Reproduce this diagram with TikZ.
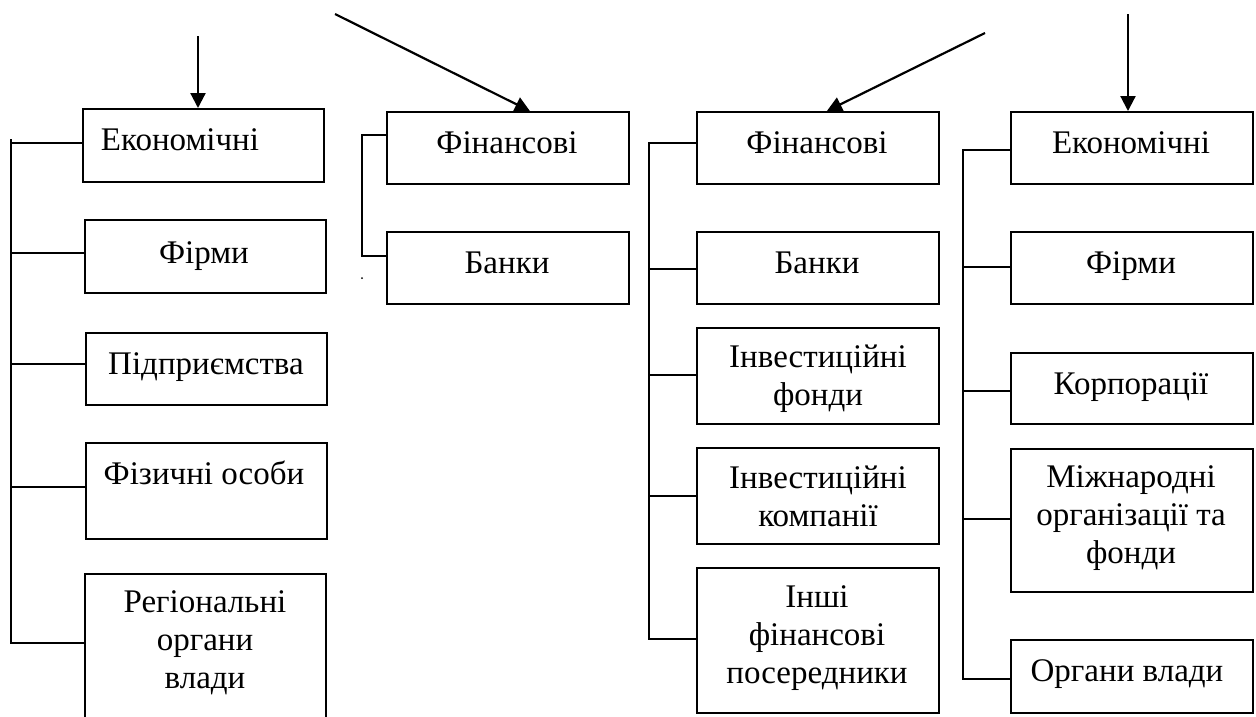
\documentclass[tikz,border=0pt]{standalone}
\usepackage{fontspec}
\setmainfont{Liberation Serif}
\usetikzlibrary{arrows.meta}
\begin{document}
\begin{tikzpicture}[x=1pt,y=-1pt,
  box/.style={draw, line width=1.8pt, inner sep=0pt, anchor=north west},
  txt/.style={font=\fontsize{33}{38}\selectfont, inner sep=0pt, align=center},
  one/.style={txt, text height=22pt, text depth=0pt},
  bus/.style={line width=1.5pt, line cap=rect},
  arr/.style={line width=2.2pt, -{Triangle[length=15pt,width=15pt]}}]
\useasboundingbox (0,0) rectangle (1256,716);
\clip (0,0) rectangle (1256,716);

% column 1
\node[box, minimum width=241pt, minimum height=73pt] (eko1) at (82,108) {};
\node[box, minimum width=241pt, minimum height=73pt] (firm1) at (84,219) {};
\node[box, minimum width=241pt, minimum height=72pt] (pidp1) at (85,332) {};
\node[box, minimum width=241pt, minimum height=96pt] (fiz1) at (85,442) {};
\node[box, minimum width=241pt, minimum height=160pt] (reg1) at (84,573) {};
\node[one] (eko1t) at (180,139) {Економічні};
\node[one] (firm1t) at (204,252) {Фірми};
\node[one] (pidp1t) at (206,363) {Підприємства};
\node[one] (fiz1t) at (204,473) {Фізичні особи};
\node[txt] (reg1t) at (205,643) {Регіональні\\органи\\влади};

% column 2
\node[box, minimum width=242pt, minimum height=72pt] (fin2) at (386,111) {};
\node[box, minimum width=242pt, minimum height=72pt] (bank2) at (386,231) {};
\node[one] (fin2t) at (507,142) {Фінансові};
\node[one] (bank2t) at (507,262) {Банки};

% column 3
\node[box, minimum width=242pt, minimum height=72pt] (fin3) at (696,111) {};
\node[box, minimum width=242pt, minimum height=72pt] (bank3) at (696,231) {};
\node[box, minimum width=242pt, minimum height=96pt] (inv3a) at (696,327) {};
\node[box, minimum width=242pt, minimum height=96pt] (inv3b) at (696,447) {};
\node[box, minimum width=242pt, minimum height=145pt] (oth3) at (696,567) {};
\node[one] (fin3t) at (817,142) {Фінансові};
\node[one] (bank3t) at (817,262) {Банки};
\node[txt] (inv3at) at (818,379) {Інвестиційні\\фонди};
\node[txt] (inv3bt) at (818,496) {Інвестиційні\\компанії};
\node[txt] (oth3t) at (817,638) {Інші\\фінансові\\посередники};

% column 4
\node[box, minimum width=242pt, minimum height=72pt] (eko4) at (1010,111) {};
\node[box, minimum width=242pt, minimum height=72pt] (firm4) at (1010,231) {};
\node[box, minimum width=242pt, minimum height=71pt] (korp4) at (1010,352) {};
\node[box, minimum width=242pt, minimum height=143pt] (mizh4) at (1010,448) {};
\node[box, minimum width=242pt, minimum height=73pt] (org4) at (1010,639) {};
\node[one] (eko4t) at (1131,142) {Економічні};
\node[one] (firm4t) at (1131,262) {Фірми};
\node[one] (korp4t) at (1131,383) {Корпорації};
\node[txt] (mizh4t) at (1131,518) {Міжнародні\\організації та\\фонди};
\node[one] (org4t) at (1127,670) {Органи влади};

% bus column 1
\coordinate (c1t) at (11,140);
\coordinate (c1a) at (11,143);
\coordinate (c1b) at (11,253);
\coordinate (c1c) at (11,364);
\coordinate (c1d) at (11,487);
\coordinate (c1e) at (11,643);
\draw[bus] (c1t) -- (c1e);
\draw[bus] (c1a) -- (c1a -| eko1.west);
\draw[bus] (c1b) -- (c1b -| firm1.west);
\draw[bus] (c1c) -- (c1c -| pidp1.west);
\draw[bus] (c1d) -- (c1d -| fiz1.west);
\draw[bus] (c1e) -- (c1e -| reg1.west);

% bus column 2
\coordinate (c2a) at (362,135);
\coordinate (c2b) at (362,256);
\draw[bus] (c2a -| fin2.west) -- (c2a) -- (c2b) -- (c2b -| bank2.west);
\fill (362,278) circle (1pt);

% bus column 3
\coordinate (c3a) at (649,143);
\coordinate (c3b) at (649,269);
\coordinate (c3c) at (649,375);
\coordinate (c3d) at (649,496);
\coordinate (c3e) at (649,639);
\draw[bus] (c3a) -- (c3e);
\draw[bus] (c3a) -- (c3a -| fin3.west);
\draw[bus] (c3b) -- (c3b -| bank3.west);
\draw[bus] (c3c) -- (c3c -| inv3a.west);
\draw[bus] (c3d) -- (c3d -| inv3b.west);
\draw[bus] (c3e) -- (c3e -| oth3.west);

% bus column 4
\coordinate (c4a) at (963,150);
\coordinate (c4b) at (963,267);
\coordinate (c4c) at (963,391);
\coordinate (c4d) at (963,519);
\coordinate (c4e) at (963,679);
\draw[bus] (c4a) -- (c4e);
\draw[bus] (c4a) -- (c4a -| eko4.west);
\draw[bus] (c4b) -- (c4b -| firm4.west);
\draw[bus] (c4c) -- (c4c -| korp4.west);
\draw[bus] (c4d) -- (c4d -| mizh4.west);
\draw[bus] (c4e) -- (c4e -| org4.west);

% arrows
\coordinate (a1s) at (198,36);
\coordinate (a2s) at (335,14);
\coordinate (a3s) at (985,33);
\coordinate (a4s) at (1128,14);
\draw[arr] (a1s) -- (a1s |- eko1.north);
\draw[arr] (a2s) -- ([xshift=22pt]fin2.north);
\draw[arr] (a3s) -- ([xshift=9pt]fin3.north);
\draw[arr] (a4s) -- (a4s |- eko4.north);
\end{tikzpicture}
\end{document}
